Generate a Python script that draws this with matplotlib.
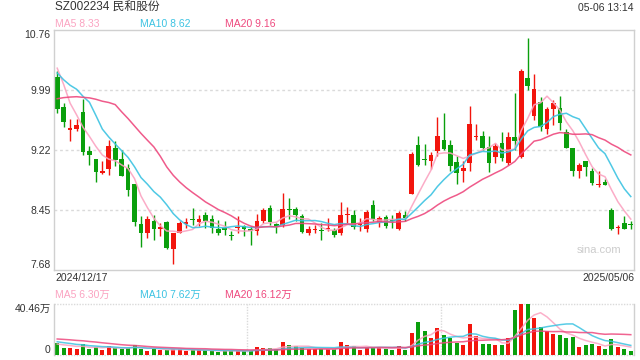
import numpy as np
import pandas as pd
import matplotlib
matplotlib.use("Agg")
import matplotlib.pyplot as plt

plt.rcParams['font.family'] = ['Liberation Sans', 'Noto Sans CJK SC', 'DejaVu Sans']

# --- data ---
title = "SZ002234 民和股份"
stamp = "05-06 13:14"
first_date = "2024/12/17"
last_date = "2025/05/06"

open_ = [10.16, 9.77, 9.48, 9.49, 9.71, 9.21, 9.11, 8.93, 8.97, 9.25,
         9.10, 8.99, 8.78, 8.27, 8.16, 8.31, 8.21, 8.29, 7.95, 8.16,
         8.27, 8.33, 8.29, 8.38, 8.34, 8.21, 8.22, 8.12, 8.22, 8.25,
         8.21, 8.18, 8.31, 8.48, 8.27, 8.26, 8.455, 8.46, 8.37, 8.155,
         8.19, 8.185, 8.21, 8.19, 8.16, 8.39, 8.38, 8.255, 8.21, 8.52,
         8.30, 8.36, 8.32, 8.21, 8.38, 8.66, 9.28, 9.105, 9.075, 9.21,
         9.35, 9.28, 9.06, 8.955, 9.05, 9.39, 9.40, 9.255, 9.13, 9.31,
         9.05, 9.39, 9.13, 10.15, 9.66, 9.84, 9.49, 9.74, 9.76, 9.45,
         9.25, 8.955, 9.08, 8.95, 8.77, 8.81, 8.45, 8.215, 8.28, 8.265]
high = [10.23, 9.82, 9.62, 9.62, 9.87, 9.27, 9.11, 9.08, 9.35, 9.34,
        9.22, 9.04, 8.79, 8.37, 8.37, 8.39, 8.28, 8.31, 8.15, 8.31,
        8.35, 8.48, 8.39, 8.43, 8.39, 8.32, 8.31, 8.18, 8.37, 8.26,
        8.24, 8.40, 8.48, 8.52, 8.28, 8.67, 8.61, 8.49, 8.40, 8.24,
        8.26, 8.28, 8.35, 8.22, 8.55, 8.49, 8.45, 8.35, 8.45, 8.58,
        8.37, 8.38, 8.39, 8.44, 8.44, 9.19, 9.40, 9.30, 9.19, 9.64,
        9.70, 9.35, 9.14, 9.08, 9.79, 9.55, 9.47, 9.40, 9.31, 9.45,
        9.45, 9.95, 10.26, 10.66, 10.20, 9.90, 9.77, 9.86, 9.91, 9.49,
        9.25, 9.05, 9.085, 8.99, 8.95, 8.85, 8.48, 8.26, 8.37, 8.305]
low = [9.70, 9.52, 9.33, 9.47, 9.15, 9.03, 8.81, 8.91, 8.90, 9.01,
       8.88, 8.63, 8.25, 7.98, 8.09, 8.06, 8.12, 7.95, 7.76, 8.15,
       8.22, 8.26, 8.24, 8.22, 8.15, 8.13, 8.13, 8.06, 8.16, 8.12,
       8.00, 8.13, 8.28, 8.26, 8.16, 8.23, 8.33, 8.31, 8.16, 8.13,
       8.15, 8.06, 8.18, 8.10, 8.13, 8.28, 8.20, 8.18, 8.17, 8.31,
       8.23, 8.22, 8.22, 8.19, 8.31, 8.65, 9.01, 9.03, 8.97, 9.14,
       9.22, 8.95, 8.78, 8.81, 8.955, 9.345, 9.22, 8.94, 9.05, 9.075,
       9.03, 9.22, 9.12, 9.99, 9.60, 9.46, 9.425, 9.545, 9.48, 9.24,
       8.88, 8.86, 8.88, 8.775, 8.74, 8.77, 8.19, 8.14, 8.20, 8.20]
close = [9.75, 9.58, 9.50, 9.54, 9.19, 9.16, 8.94, 8.95, 9.27, 9.09,
         8.89, 8.71, 8.30, 8.16, 8.34, 8.21, 8.23, 7.96, 8.15, 8.28,
         8.29, 8.32, 8.33, 8.31, 8.22, 8.16, 8.19, 8.11, 8.235, 8.20,
         8.18, 8.31, 8.45, 8.29, 8.23, 8.46, 8.45, 8.38, 8.17, 8.21,
         8.20, 8.175, 8.22, 8.13, 8.38, 8.40, 8.23, 8.265, 8.42, 8.33,
         8.35, 8.24, 8.31, 8.41, 8.35, 9.17, 9.03, 9.095, 9.16, 9.40,
         9.23, 9.02, 8.92, 8.99, 9.55, 9.40, 9.25, 9.05, 9.275, 9.12,
         9.39, 9.33, 10.24, 10.045, 10.00, 9.52, 9.75, 9.82, 9.57, 9.25,
         8.95, 9.03, 9.00, 8.80, 8.78, 8.775, 8.20, 8.225, 8.21, 8.255]
# volume in 万股
volume = [9.3, 5.8, 5.8, 5.0, 8.7, 5.0, 6.1, 4.0, 7.4, 5.3,
          5.0, 5.3, 7.9, 5.0, 3.4, 5.0, 3.7, 4.0, 4.5, 4.5,
          3.4, 3.7, 3.7, 3.7, 3.4, 2.6, 3.2, 3.4, 3.4, 3.2,
          3.4, 6.1, 5.3, 5.3, 4.5, 10.3, 7.7, 7.1, 5.3, 4.5,
          4.5, 4.8, 4.8, 4.5, 10.3, 7.7, 6.9, 4.0, 5.8, 5.8,
          6.1, 4.8, 4.0, 6.9, 4.0, 17.7, 26.2, 19.0, 13.5, 21.4,
          15.6, 13.2, 9.5, 7.9, 24.6, 15.1, 8.7, 8.7, 7.9, 7.9,
          13.5, 35.5, 40.2, 40.46, 29.0, 22.5, 19.0, 16.6, 15.9, 13.5,
          14.0, 6.3, 7.9, 9.0, 7.5, 4.8, 12.7, 6.3, 4.8, 2.9]
# sessions before the window, estimated from where the MA lines start
prior_close = [9.30, 9.35, 9.45, 9.35, 9.30, 9.30, 9.45, 9.60, 9.63, 10.75,
               10.45, 10.20, 10.05, 10.10, 9.93, 10.625, 10.70, 10.285, 9.99]
prior_volume = [12, 13, 14, 15, 16, 15, 16, 17, 16, 15,
                13, 12, 12.5, 12, 12, 9, 8.5, 8.5, 8.2]

price_ticks = [7.68, 8.45, 9.22, 9.99, 10.76]
ma_periods = [5, 10, 20]

UP = '#f2150d'
DOWN = '#0a9f0c'
MA_COLORS = {5: '#fba3c1', 10: '#3cc3e2', 20: '#ee497e'}
FRAME = '#d0d0d0'
GRID = '#dadada'
TXT = '#333333'

open_ = np.array(open_)
high = np.array(high)
low = np.array(low)
close = np.array(close)
volume = np.array(volume)
n = len(close)
x = np.arange(n)
colors = np.where(close >= open_, UP, DOWN)

def moving(prior, values, k):
    s = pd.Series(list(prior) + list(values)).rolling(k).mean()
    return s.iloc[len(prior):].to_numpy()

W, H = 640, 360
fig = plt.figure(figsize=(6.4, 3.6), dpi=100)
ax = fig.add_axes([54 / W, 90 / H, 580 / W, 240 / H])
axv = fig.add_axes([54 / W, 5 / H, 580 / W, 51 / H])

def ftext(px, py, s, **kw):
    fig.text(px / W, 1 - py / H, s, **kw)

# --- price panel ---
ax.vlines(x, low, high, colors=colors, lw=1, zorder=2)
body_lo = np.minimum(open_, close)
body_h = np.maximum(np.abs(close - open_), 0.013)
ax.bar(x, body_h, bottom=body_lo, width=0.72, color=colors, lw=0, zorder=2)
price_ma = {}
for k in ma_periods:
    price_ma[k] = moving(prior_close, close, k)
    ax.plot(x, price_ma[k], color=MA_COLORS[k], lw=1.1, alpha=0.9, zorder=3)

ax.set_xlim(-0.5, n - 0.5)
ax.set_ylim(price_ticks[0], price_ticks[-1])
for t in price_ticks[1:-1]:
    ax.axhline(t, color=GRID, lw=1, ls=(0, (2, 2)), zorder=1)
ax.set_xticks([])
ax.set_yticks(price_ticks)
ax.set_yticklabels([f"{t:.2f}" for t in price_ticks])
ax.tick_params(axis='y', length=0, pad=2.5, labelsize=7.5, labelcolor=TXT)
labs = ax.get_yticklabels()
labs[0].set_va('bottom')
labs[-1].set_va('top')
for sp in ax.spines.values():
    sp.set_color(FRAME)
    sp.set_linewidth(1)

ax.text(0.94, 0.083, "sina.com", transform=ax.transAxes, ha='center',
        va='center', fontsize=8, color='#cccccc')

# --- volume panel ---
axv.bar(x, volume, width=0.62, color=colors, lw=0, zorder=2)
vol_ma = {}
for k in ma_periods:
    vol_ma[k] = moving(prior_volume, volume, k)
    axv.plot(x, vol_ma[k], color=MA_COLORS[k], lw=1.1, alpha=0.85, zorder=3)
vol_top = volume.max()
axv.set_xlim(-0.5, n - 0.5)
axv.set_ylim(0, vol_top)
axv.set_xticks([])
axv.set_yticks([0, vol_top])
axv.set_yticklabels(["0", f"{vol_top:.2f}万"])
axv.tick_params(axis='y', length=0, pad=2.5, labelsize=7.5, labelcolor=TXT)
vl = axv.get_yticklabels()
vl[0].set_va('bottom')
vl[1].set_va('top')
for side in ['top', 'bottom']:
    axv.spines[side].set_visible(False)
for side in ['left', 'right']:
    axv.spines[side].set_color(FRAME)
    axv.spines[side].set_linewidth(1)
for yv in [0, vol_top]:
    axv.axhline(yv, color=GRID, lw=1, ls=(0, (1, 1)), clip_on=False, zorder=1)
for xv in [-0.5 + n / 3, -0.5 + 2 * n / 3]:
    axv.axvline(xv, color=GRID, lw=1, ls=(0, (1, 1)), zorder=1)

# --- header texts ---
ftext(55, 8, title, fontsize=8.5, color=TXT, va='center', ha='left')
ftext(634, 8, stamp, fontsize=7.5, color=TXT, va='center', ha='right')
for k, px in zip(ma_periods, [55, 140, 225]):
    ftext(px, 24, f"MA{k} {price_ma[k][-1]:.2f}", fontsize=7.5,
          color=MA_COLORS[k], va='center', ha='left')
    ftext(px, 295, f"MA{k} {vol_ma[k][-1]:.2f}万", fontsize=7.5,
          color=MA_COLORS[k], va='center', ha='left')
ftext(55, 278, first_date, fontsize=7.5, color=TXT, va='center', ha='left')
ftext(634, 278, last_date, fontsize=7.5, color=TXT, va='center', ha='right')

fig.savefig("out.png", dpi=100)
